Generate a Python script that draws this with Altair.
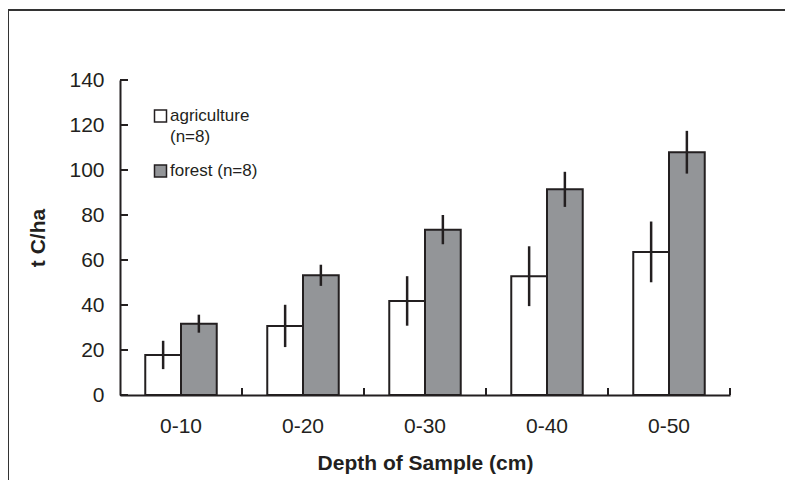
import altair as alt
import pandas as pd

depths = ["0-10", "0-20", "0-30", "0-40", "0-50"]
series = ["agriculture", "forest"]
agri_mean = [17.8, 30.7, 41.8, 52.8, 63.6]
agri_err = [6.3, 9.4, 11.0, 13.3, 13.5]
forest_mean = [31.7, 53.2, 73.5, 91.4, 107.9]
forest_err = [4.0, 4.7, 6.5, 7.8, 9.5]
y_ticks = [0, 20, 40, 60, 80, 100, 120, 140]
legend_lines = ["agriculture", "(n=8)", "forest (n=8)"]
series_colors = ["#ffffff", "#939598"]

rows = []
for s, means, errs in [(series[0], agri_mean, agri_err), (series[1], forest_mean, forest_err)]:
    for d, m, e in zip(depths, means, errs):
        rows.append({"depth": d, "series": s, "mean": m, "lo": m - e, "hi": m + e})
df = pd.DataFrame(rows)

W, H = 610, 315
INK = "#231f20"
FONT = "Liberation Sans"


def X(**kw):
    return alt.X(
        "depth:N",
        sort=depths,
        scale=alt.Scale(domain=depths, paddingInner=0, paddingOuter=0),
        axis=alt.Axis(
            title="Depth of Sample (cm)", ticks=False, labelAngle=0,
            labelFontSize=21, labelPadding=20, labelColor=INK, labelFont=FONT,
            titleFontSize=21, titleFont=FONT, titleFontWeight="bold", titleColor=INK,
            titlePadding=16, domainColor=INK, domainWidth=2, grid=False,
        ),
        **kw,
    )


def Y(field):
    return alt.Y(
        field,
        scale=alt.Scale(domain=[0, 140], nice=False, zero=True),
        axis=alt.Axis(
            title="t C/ha", values=y_ticks, ticks=False,
            labelFontSize=21, labelPadding=16, labelColor=INK, labelFont=FONT,
            titleFontSize=21, titleFont=FONT, titleFontWeight="bold", titleColor=INK,
            titlePadding=20, domainColor=INK, domainWidth=2, grid=False,
        ),
    )


color = alt.Color("series:N", scale=alt.Scale(domain=series, range=series_colors), legend=None)
xoff = alt.XOffset("series:N", sort=series, scale=alt.Scale(domain=series, paddingInner=0, paddingOuter=0.707))

bars = alt.Chart(df).mark_bar(stroke=INK, strokeWidth=2).encode(
    x=X(), xOffset=xoff, y=Y("mean:Q"), color=color
)
errs = alt.Chart(df).mark_rule(color=INK, strokeWidth=2.5).encode(
    x=X(), xOffset=xoff, y=Y("lo:Q"), y2="hi:Q"
)

tick_df = pd.DataFrame({"tick": y_ticks})
yticks = alt.Chart(tick_df).mark_rule(color=INK, strokeWidth=2).encode(
    y=Y("tick:Q"), x=alt.value(0), x2=alt.value(8)
)
xt_df = pd.DataFrame({"depth": depths[1:]})
xticks = alt.Chart(xt_df).mark_rule(color=INK, strokeWidth=2).encode(
    x=X(bandPosition=0), y=alt.value(H), y2=alt.value(H - 7)
)
xt_end = alt.Chart(pd.DataFrame({"depth": depths[-1:]})).mark_rule(color=INK, strokeWidth=2).encode(
    x=X(bandPosition=1), y=alt.value(H), y2=alt.value(H - 7)
)

leg_df = pd.DataFrame({"series": series})
sq_a = alt.Chart(leg_df[leg_df.series == series[0]]).mark_square(
    size=144, stroke=INK, strokeWidth=1.5, opacity=1
).encode(x=alt.value(40.5), y=alt.value(36), color=color)
sq_f = alt.Chart(leg_df[leg_df.series == series[1]]).mark_square(
    size=144, stroke=INK, strokeWidth=1.5, opacity=1
).encode(x=alt.value(40.5), y=alt.value(91), color=color)

txt_df = pd.DataFrame({"label": legend_lines})
def leg_text(i, yv):
    return alt.Chart(txt_df.iloc[[i]]).mark_text(
        align="left", baseline="middle", fontSize=17, font=FONT, color=INK
    ).encode(text="label:N", x=alt.value(50), y=alt.value(yv))

t1 = leg_text(0, 36)
t2 = leg_text(1, 57)
t3 = leg_text(2, 91)

frame = alt.Chart(pd.DataFrame({"a": [0]})).mark_rect(
    filled=False, stroke="#333333", strokeWidth=2
).encode(x=alt.value(-112), x2=alt.value(700), y=alt.value(-70), y2=alt.value(500))

chart = alt.layer(bars, errs, yticks, xticks, xt_end, sq_a, sq_f, t1, t2, t3, frame).properties(
    width=W, height=H,
    autosize=alt.AutoSizeParams(type="none"),
    padding={"left": 112, "top": 72, "right": 55, "bottom": 85},
    background="white",
).configure_view(stroke=None)

chart.save("out.html", embed_options={"renderer": "svg", "actions": False})
